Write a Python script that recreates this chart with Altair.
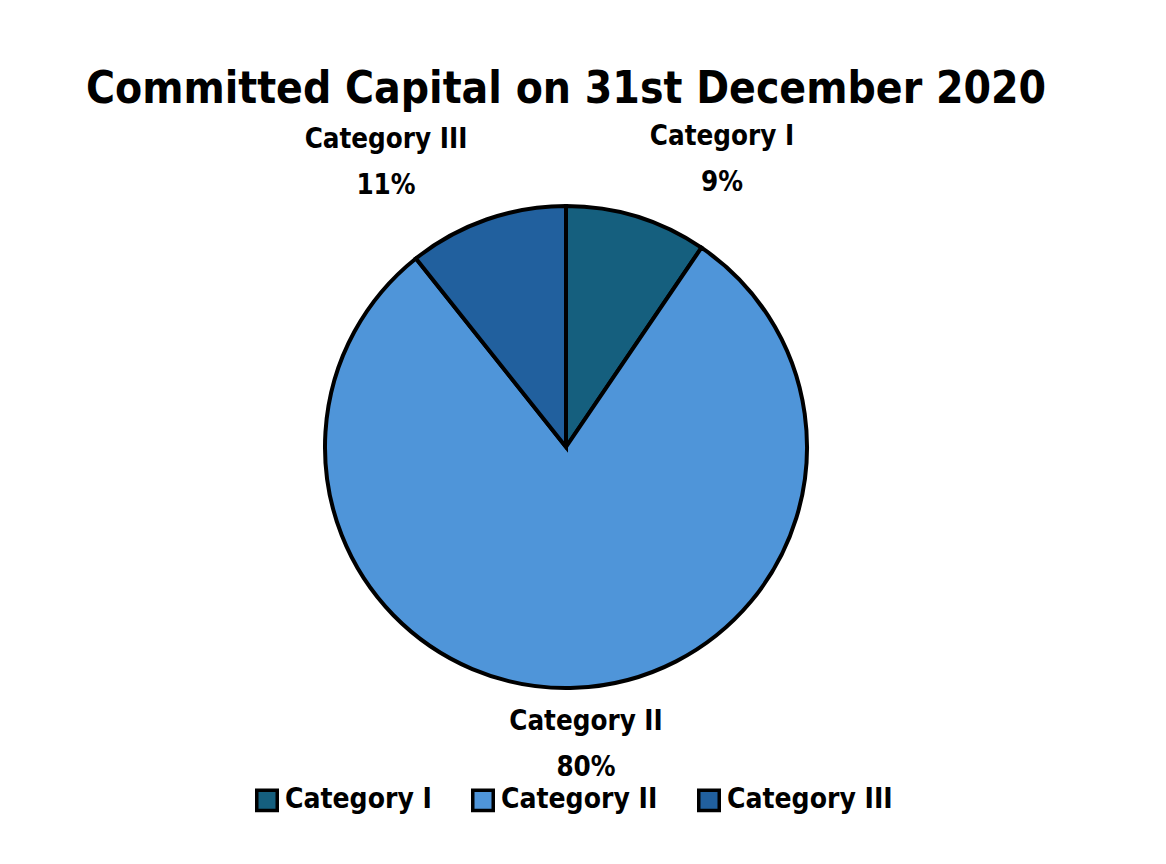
import altair as alt
import pandas as pd

categories = ["Category I", "Category II", "Category III"]
values = [9.5, 79.8, 10.7]
pct_labels = ["9%", "80%", "11%"]
colors = ["#155f7e", "#4f95d9", "#21609e"]

FONT = "DejaVu Sans Condensed, Liberation Sans, sans-serif"

df = pd.DataFrame({
    "category": categories,
    "value": values,
    "order": list(range(len(categories))),
    "label": [f"{c}\n{p}" for c, p in zip(categories, pct_labels)],
})

color_scale = alt.Scale(domain=categories, range=colors)

pie = alt.Chart(df).mark_arc(outerRadius=241, stroke="black", strokeWidth=4).encode(
    theta=alt.Theta("value:Q", stack=True),
    order=alt.Order("order:Q"),
    color=alt.Color(
        "category:N",
        scale=color_scale,
        sort=categories,
        legend=alt.Legend(
            title=None,
            orient="none",
            direction="horizontal",
            legendX=245,
            legendY=668,
            symbolType="square",
            symbolSize=420,
            symbolStrokeColor="black",
            symbolStrokeWidth=3.5,
            symbolOpacity=1,
            labelFont=FONT,
            labelFontSize=28,
            labelFontWeight="bold",
            labelColor="black",
            labelOffset=4,
            columnPadding=33,
            labelLimit=300,
        ),
    ),
    x=alt.value(558),
    y=alt.value(329),
)

label_pos = {"Category I": (714, 19), "Category II": (578, 604), "Category III": (378, 22)}

text_layers = []
for cat in categories:
    px, py = label_pos[cat]
    t = alt.Chart(df).transform_filter(alt.datum.category == cat).mark_text(
        font=FONT, fontSize=27.5, fontWeight="bold", color="black",
        align="center", baseline="middle", lineBreak="\n", lineHeight=46,
    ).encode(text="label:N", x=alt.value(px), y=alt.value(py))
    text_layers.append(t)

chart = alt.layer(pie, *text_layers).properties(
    width=1150,
    height=738,
    autosize=alt.AutoSizeParams(type="none"),
    padding={"left": 0, "top": 110, "right": 0, "bottom": 0},
    title=alt.Title(
        "Committed Capital on 31st December 2020",
        font=FONT, fontSize=44, fontWeight="bold", color="black",
        anchor="middle", offset=6, dx=-17,
    ),
).configure_view(stroke=None)

chart.save("out.html", embed_options={"renderer": "svg", "actions": False})
